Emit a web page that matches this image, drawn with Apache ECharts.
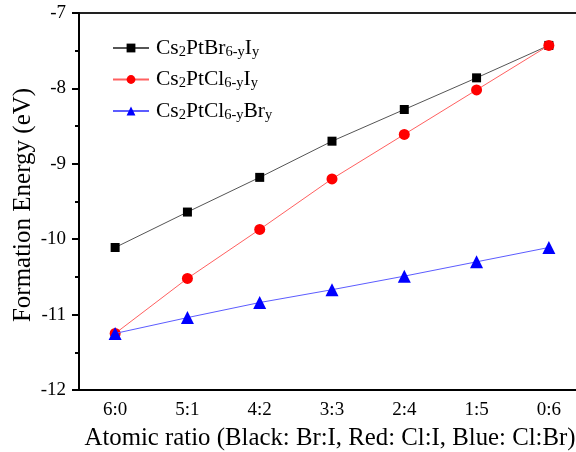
<!DOCTYPE html>
<html><head><meta charset="utf-8">
<script src="https://cdn.jsdelivr.net/npm/echarts@6/dist/echarts.min.js"></script>
<style>html,body{margin:0;padding:0;background:#fff}#c{width:576px;height:452px}</style>
</head><body><div id="c"></div>
<script>
const categories = ['6:0','5:1','4:2','3:3','2:4','1:5','0:6'];
const brI = [-10.11, -9.64, -9.18, -8.70, -8.28, -7.86, -7.43];
const clI = [-11.25, -10.52, -9.87, -9.20, -8.61, -8.02, -7.43];
const clBr = [-11.25, -11.04, -10.84, -10.67, -10.49, -10.30, -10.11];
const seriesNames = ['Cs2PtBr6-yIy', 'Cs2PtCl6-yIy', 'Cs2PtCl6-yBry'];
const legendRich = {
  'Cs2PtBr6-yIy': '{n|Cs}{s|2}{n|PtBr}{s|6-y}{n|I}{s|y}',
  'Cs2PtCl6-yIy': '{n|Cs}{s|2}{n|PtCl}{s|6-y}{n|I}{s|y}',
  'Cs2PtCl6-yBry': '{n|Cs}{s|2}{n|PtCl}{s|6-y}{n|Br}{s|y}'
};
const yTitle = 'Formation Energy (eV)';
const xTitle = 'Atomic ratio (Black: Br:I, Red: Cl:I, Blue: Cl:Br)';
const font = '"Liberation Serif", "Times New Roman", serif';

const chart = echarts.init(document.getElementById('c'), null, {renderer: 'canvas'});
chart.setOption({
  animation: false,
  backgroundColor: '#fff',
  grid: {left: 79, width: 506, top: 13, height: 377, outerBoundsMode: 'none', containLabel: false,
         show: true, borderColor: '#222', borderWidth: 2, backgroundColor: 'transparent'},
  legend: {
    left: 107, top: 32, orient: 'vertical', itemWidth: 36, itemHeight: 11, itemGap: 9,
    data: seriesNames,
    formatter: n => legendRich[n],
    textStyle: {
      fontFamily: font, color: '#000', padding: [0, 0, 0, 2],
      rich: {
        n: {fontFamily: font, fontSize: 21.5, color: '#000', lineHeight: 23, verticalAlign: 'middle'},
        s: {fontFamily: font, fontSize: 14.5, color: '#000', lineHeight: 4, verticalAlign: 'bottom'}
      }
    }
  },
  xAxis: {
    type: 'category', data: categories, boundaryGap: true,
    axisLine: {lineStyle: {color: '#000', width: 2}},
    axisTick: {alignWithLabel: true, inside: false, length: 6, lineStyle: {width: 2, color: '#000'}},
    axisLabel: {fontFamily: font, fontSize: 19, color: '#000', margin: 11},
    splitLine: {show: false}
  },
  yAxis: {
    type: 'value', min: -12, max: -7, interval: 1,
    axisLine: {show: true, lineStyle: {color: '#000', width: 2}},
    axisTick: {show: true, inside: false, length: 7, lineStyle: {width: 2, color: '#000'}},
    minorTick: {show: true, splitNumber: 2, length: 4, lineStyle: {width: 2, color: '#000'}},
    axisLabel: {fontFamily: font, fontSize: 19, color: '#000', margin: 13},
    splitLine: {show: false}
  },
  graphic: [
    {type: 'text', rotation: Math.PI / 2, x: 23, y: 205,
     style: {text: yTitle, font: '25px ' + font, fill: '#000', textAlign: 'center', textVerticalAlign: 'middle'}},
    {type: 'text', x: 330, y: 438,
     style: {text: xTitle, font: '24.8px ' + font, fill: '#000', textAlign: 'center', textVerticalAlign: 'middle'}}
  ],
  series: [
    {name: seriesNames[0], type: 'line', data: brI, symbol: 'rect', symbolSize: 9,
     itemStyle: {color: '#000'}, lineStyle: {color: '#555', width: 1}, z: 3},
    {name: seriesNames[1], type: 'line', data: clI, symbol: 'circle', symbolSize: 11,
     itemStyle: {color: '#ff0000'}, lineStyle: {color: '#ff6060', width: 1}, z: 4},
    {name: seriesNames[2], type: 'line', data: clBr, symbol: 'triangle', symbolSize: 13,
     itemStyle: {color: '#0000ff'}, lineStyle: {color: '#5c5cff', width: 1}, z: 5}
  ]
});
</script></body></html>
